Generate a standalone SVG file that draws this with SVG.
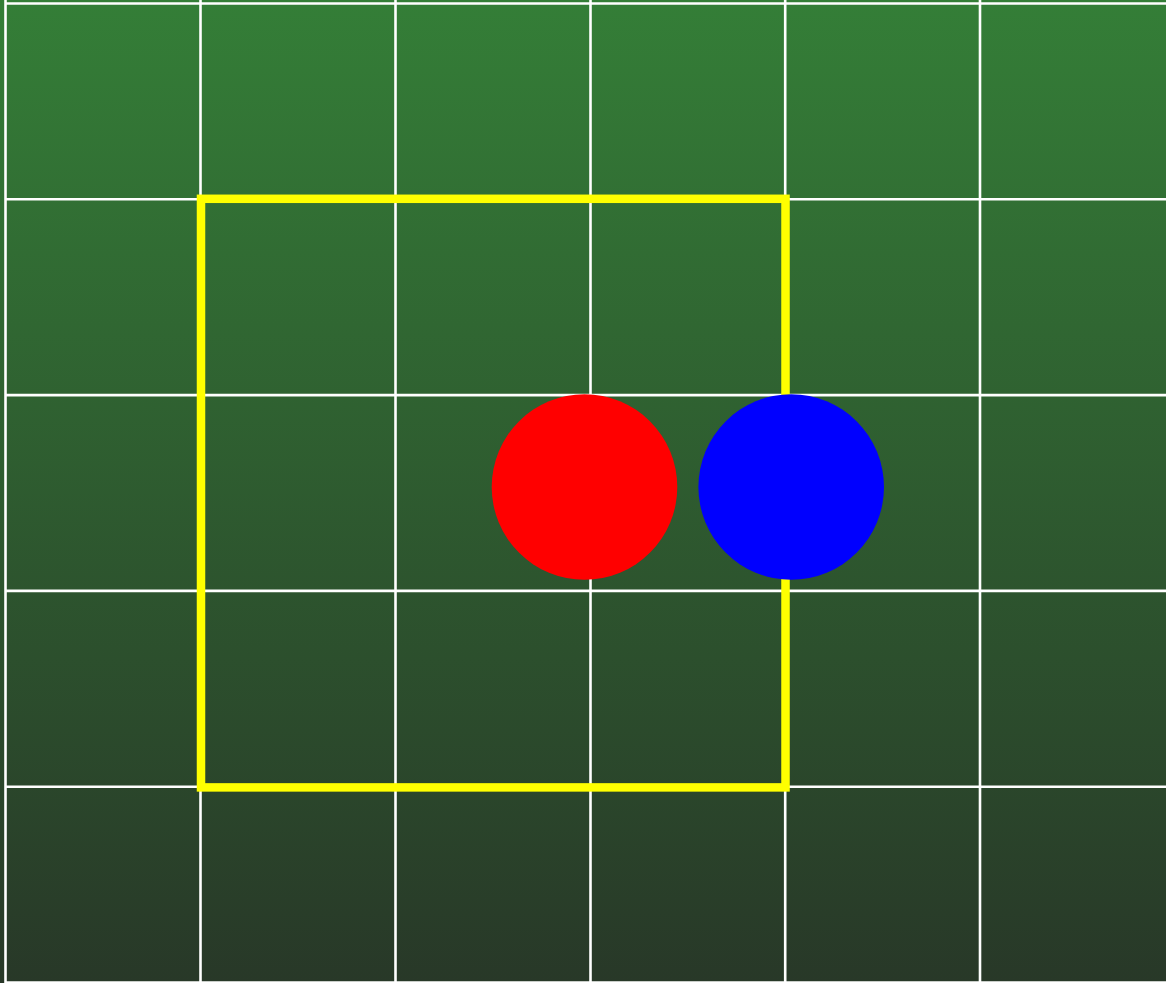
<svg xmlns="http://www.w3.org/2000/svg" width="1166" height="983" viewBox="0 0 1166 983">
  <defs>
    <linearGradient id="bg" x1="0" y1="0" x2="0" y2="1">
      <stop offset="0" stop-color="#347e37"/>
      <stop offset="1" stop-color="#283828"/>
    </linearGradient>
    <style>
      .grid { stroke: #ffffff; stroke-width: 2.6; fill: none; }
      .frame { stroke: #ffff00; stroke-width: 8.5; fill: none; }
    </style>
  </defs>
  <rect id="board" x="0" y="0" width="1166" height="983" fill="url(#bg)"/>
  <g id="grid" class="grid">
    <line x1="5.5" y1="0" x2="5.5" y2="983"/>
    <line x1="200.5" y1="0" x2="200.5" y2="983"/>
    <line x1="395.5" y1="0" x2="395.5" y2="983"/>
    <line x1="590.5" y1="0" x2="590.5" y2="983"/>
    <line x1="785.2" y1="0" x2="785.2" y2="983"/>
    <line x1="980" y1="0" x2="980" y2="983"/>
    <line x1="5.5" y1="3.5" x2="1166" y2="3.5"/>
    <line x1="5.5" y1="199.3" x2="1166" y2="199.3"/>
    <line x1="5.5" y1="395.1" x2="1166" y2="395.1"/>
    <line x1="5.5" y1="590.9" x2="1166" y2="590.9"/>
    <line x1="5.5" y1="786.7" x2="1166" y2="786.7"/>
    <line x1="5.5" y1="982.5" x2="1166" y2="982.5"/>
  </g>
  <g id="highlight">
    <rect class="frame" x="201" y="198.8" width="584.5" height="588.6"/>
  </g>
  <g id="red-piece">
    <circle cx="584.5" cy="487" r="92.8" fill="#ff0000"/>
  </g>
  <g id="blue-piece">
    <circle cx="791.2" cy="487" r="92.8" fill="#0000ff"/>
  </g>
  <g id="connectors"/>
</svg>
